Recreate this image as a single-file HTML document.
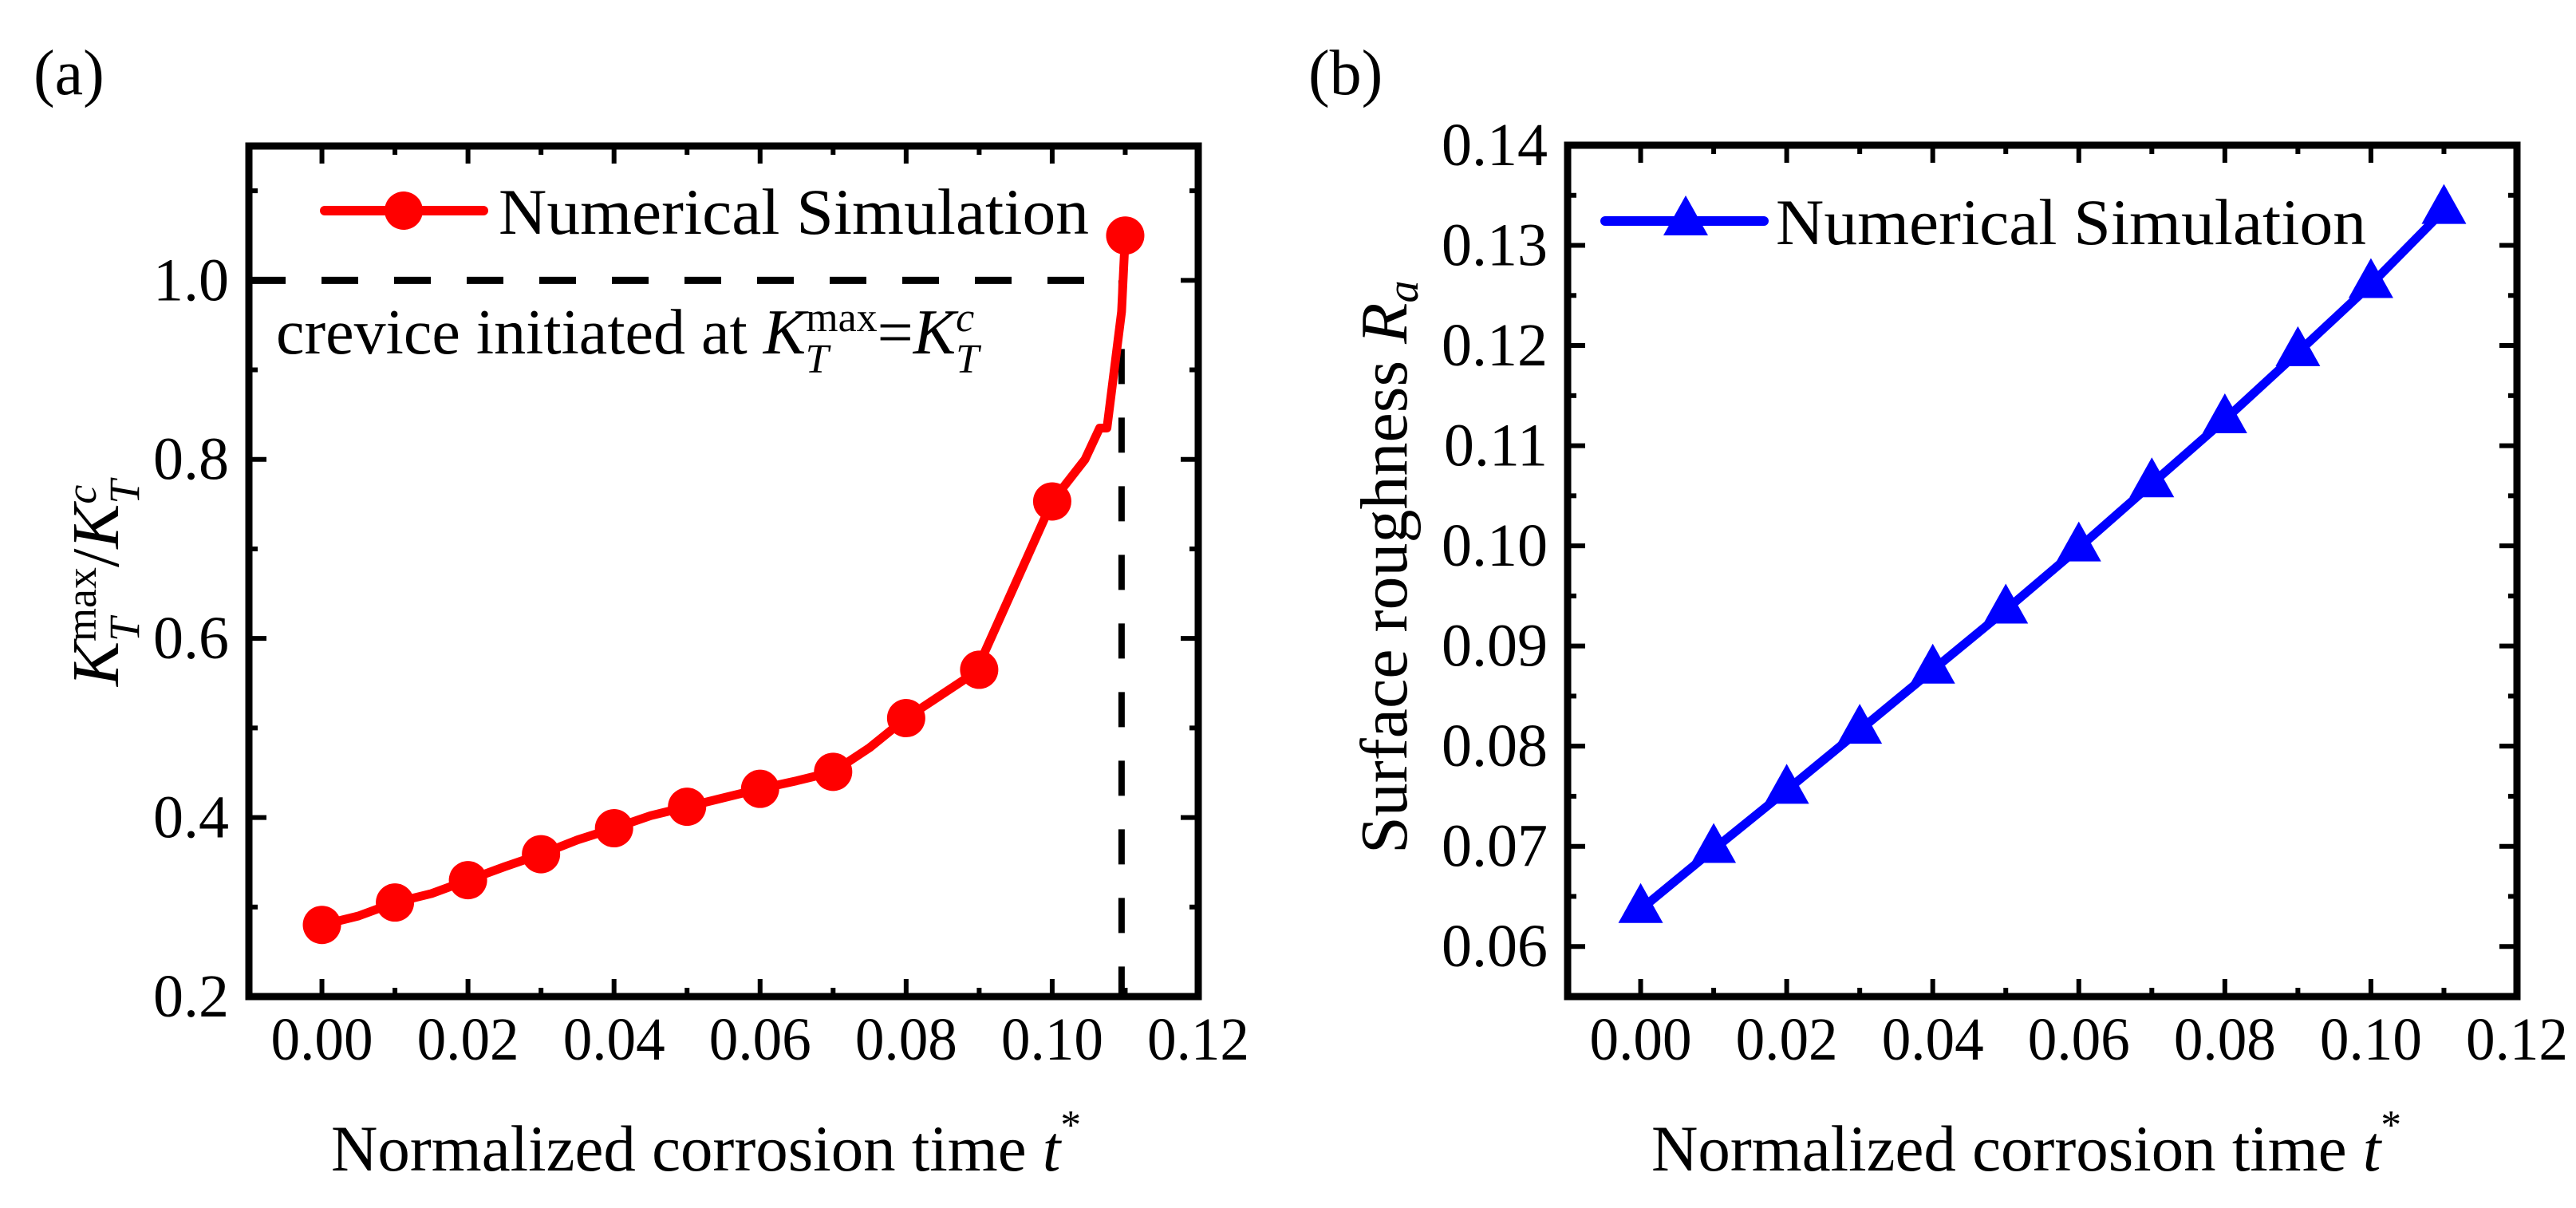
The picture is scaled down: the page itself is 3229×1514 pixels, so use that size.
<!DOCTYPE html>
<html><head><meta charset="utf-8"><style>
html,body{margin:0;padding:0;background:#fff;}
svg{display:block;font-family:"Liberation Serif",serif;}
</style></head><body>
<svg id="fig" width="3229" height="1514" viewBox="0 0 3229 1514" xmlns="http://www.w3.org/2000/svg">
<rect width="3229" height="1514" fill="#fff"/>
<g id="pa"></g>
<g id="pb"></g>
</svg>
<script>
// Panel (a) data
const tA = [0.00,0.01,0.02,0.03,0.04,0.05,0.06,0.07,0.08,0.09,0.10,0.11];
const kA = [0.28,0.305,0.33,0.359,0.388,0.412,0.432,0.451,0.511,0.565,0.753,1.05];
// extra line vertices (line is denser than markers)
const tLineA = [0.00,0.005,0.01,0.015,0.02,0.025,0.03,0.035,0.04,0.045,0.05,0.055,0.06,0.065,0.07,0.075,0.08,0.085,0.09,0.0905,0.10,0.1045,0.1065,0.1075,0.1095,0.11];
const kLineA = [0.28,0.29,0.305,0.315,0.33,0.345,0.359,0.375,0.388,0.402,0.412,0.422,0.432,0.441,0.451,0.478,0.511,0.538,0.565,0.58,0.753,0.80,0.835,0.835,0.965,1.05];
const yTicksA = [0.2,0.4,0.6,0.8,1.0];
const yTickLabelsA = ["0.2","0.4","0.6","0.8","1.0"];
// Panel (b) data
const tB = [0.00,0.01,0.02,0.03,0.04,0.05,0.06,0.07,0.08,0.09,0.10,0.11];
const rB = [0.0637,0.0697,0.0756,0.0816,0.0876,0.0936,0.0998,0.1062,0.1126,0.1193,0.1261,0.1335];
const yTicksB = [0.06,0.07,0.08,0.09,0.10,0.11,0.12,0.13,0.14];
const yTickLabelsB = ["0.06","0.07","0.08","0.09","0.10","0.11","0.12","0.13","0.14"];
const xTicks = [0.00,0.02,0.04,0.06,0.08,0.10,0.12];
const xTickLabels = ["0.00","0.02","0.04","0.06","0.08","0.10","0.12"];

const NS="http://www.w3.org/2000/svg";
function mk(parent,tag,attrs,text){const e=document.createElementNS(NS,tag);for(const k in attrs)e.setAttribute(k,attrs[k]);if(text!==undefined)e.textContent=text;parent.appendChild(e);return e;}

function panel(g,L,T,R,B,ymin,ymax,yMinorStep,yTicks,yLabels){
  const xmin=-0.01,xmax=0.12;
  const sx=v=>L+(v-xmin)/(xmax-xmin)*(R-L);
  const sy=v=>B-(v-ymin)/(ymax-ymin)*(B-T);
  for(let v=0;v<=0.1201;v+=0.01){
    const major=Math.round(v*100)%2===0, len=major?22:11, x=sx(v);
    const t1=mk(g,'line',{x1:x,y1:B,x2:x,y2:B-len,stroke:'#000','stroke-width':6});
    
    
    const t2=mk(g,'line',{x1:x,y1:T,x2:x,y2:T+len,stroke:'#000','stroke-width':6});
    
    
  }
  xTicks.forEach((v,i)=>{
    const t=mk(g,'text',{x:sx(v),y:1328,'font-size':76,'text-anchor':'middle',textLength:128,lengthAdjust:'spacingAndGlyphs'},xTickLabels[i]);
    
    
  });
  for(let v=ymin;v<=ymax+1e-9;v+=yMinorStep){
    const isMajor=yTicks.some(m=>Math.abs(m-v)<1e-9), len=isMajor?22:11, y=sy(v);
    if(y<T+2||y>B-2)continue;
    const t1=mk(g,'line',{x1:L,y1:y,x2:L+len,y2:y,stroke:'#000','stroke-width':6});
    
    
    const t2=mk(g,'line',{x1:R,y1:y,x2:R-len,y2:y,stroke:'#000','stroke-width':6});
    
    
  }
  yTicks.forEach((v,i)=>{
    const t=mk(g,'text',{x:L-25,y:sy(v)+25,'font-size':76,'text-anchor':'end'},yLabels[i]);
    
    
  });
  const fr=mk(g,'rect',{x:L,y:T,width:R-L,height:B-T,fill:'none',stroke:'#000','stroke-width':9});
  
  
  return {sx,sy};
}

// ---- Panel A ----
const ga=document.getElementById('pa');
const A=panel(ga,312,183,1502,1249,0.2,1.15,0.1,yTicksA,yTickLabelsA);
const dh=mk(ga,'line',{x1:312,y1:A.sy(1.0),x2:A.sx(0.1095),y2:A.sy(1.0),stroke:'#000','stroke-width':9,'stroke-dasharray':'46 45'});


const dv=mk(ga,'line',{x1:A.sx(0.1095),y1:A.sy(1.0),x2:A.sx(0.1095),y2:1249,stroke:'#000','stroke-width':8,'stroke-dasharray':'44 42'});


const pa=mk(ga,'polyline',{points:tLineA.map((t,i)=>A.sx(t)+','+A.sy(kLineA[i])).join(' '),fill:'none',stroke:'#ff0000','stroke-width':11,'stroke-linejoin':'round'});


tA.forEach((t,i)=>{
  const c=mk(ga,'circle',{cx:A.sx(t),cy:A.sy(kA[i]),r:24,fill:'#ff0000'});
  
  
});

// ---- Panel B ----
const gb=document.getElementById('pb');
const Bp=panel(gb,1965,182,3155,1249,0.055,0.14,0.005,yTicksB,yTickLabelsB);
const pb=mk(gb,'polyline',{points:tB.map((t,i)=>Bp.sx(t)+','+Bp.sy(rB[i])).join(' '),fill:'none',stroke:'#0000ff','stroke-width':11,'stroke-linejoin':'round'});


function tri(x,y){return (x)+','+(y-33)+' '+(x-28)+','+(y+17)+' '+(x+28)+','+(y+17);}
tB.forEach((t,i)=>{
  const p=mk(gb,'polygon',{points:tri(Bp.sx(t),Bp.sy(rB[i])),fill:'#0000ff'});
  
  
});
</script>
<svg style="position:absolute;left:0;top:0" width="3229" height="1514" viewBox="0 0 3229 1514" xmlns="http://www.w3.org/2000/svg" font-family="Liberation Serif, serif">
  <text x="42" y="118" font-size="80">(a)</text>
  <text x="1640" y="118" font-size="80">(b)</text>
  <g>
    <line x1="407" y1="264" x2="606" y2="264" stroke="#ff0000" stroke-width="12" stroke-linecap="round"/>
    <circle cx="506" cy="264" r="24" fill="#ff0000"/>
    <text x="625" y="293" font-size="82" textLength="740" lengthAdjust="spacingAndGlyphs">Numerical Simulation</text>
  </g>
  <text x="346" y="443" font-size="80">crevice initiated at <tspan font-style="italic">K</tspan><tspan font-size="52" dy="-28">max</tspan><tspan font-size="52" font-style="italic" dx="-90" dy="52">T</tspan><tspan dy="-24" dx="61">=</tspan><tspan font-style="italic">K</tspan><tspan font-size="52" font-style="italic" dy="-28">c</tspan><tspan font-size="52" font-style="italic" dx="-23" dy="52">T</tspan></text>
  <text transform="translate(148,860) rotate(-90)" font-size="84"><tspan font-style="italic">K</tspan><tspan font-size="54" dy="-28">max</tspan><tspan font-size="54" font-style="italic" dx="-93" dy="54">T</tspan><tspan dy="-26" dx="63">/</tspan><tspan font-style="italic">K</tspan><tspan font-size="54" font-style="italic" dy="-28">c</tspan><tspan font-size="54" font-style="italic" dx="-24" dy="54">T</tspan></text>
  <text x="415" y="1467" font-size="82" textLength="940" lengthAdjust="spacingAndGlyphs">Normalized corrosion time <tspan font-style="italic">t</tspan><tspan font-size="52" dy="-40">*</tspan></text>
  <g>
    <line x1="2012" y1="277" x2="2211" y2="277" stroke="#0000ff" stroke-width="12" stroke-linecap="round"/>
    <polygon points="2113,245 2085,295 2141,295" fill="#0000ff"/>
    <text x="2226" y="306" font-size="82" textLength="740" lengthAdjust="spacingAndGlyphs">Numerical Simulation</text>
  </g>
  <text transform="translate(1763,1070) rotate(-90)" font-size="84">Surface roughness <tspan font-style="italic">R</tspan><tspan font-style="italic" font-size="56" dy="14">a</tspan></text>
  <text x="2070" y="1467" font-size="82" textLength="940" lengthAdjust="spacingAndGlyphs">Normalized corrosion time <tspan font-style="italic">t</tspan><tspan font-size="52" dy="-40">*</tspan></text>
</svg>
</body></html>
